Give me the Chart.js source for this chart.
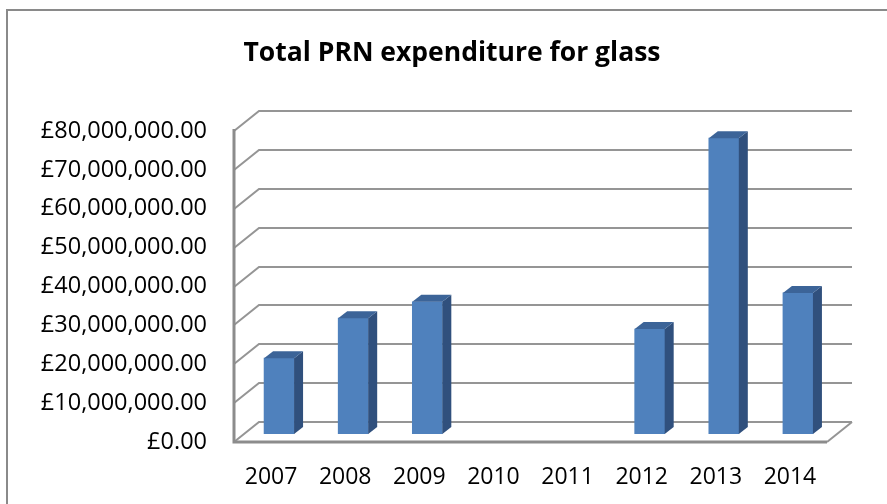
<!DOCTYPE html>
<html><head><meta charset="utf-8">
<script src="https://cdn.jsdelivr.net/npm/chart.js@4"></script>
<style>html,body{margin:0;padding:0;background:#fff;overflow:hidden}</style>
</head><body>
<canvas id="c" width="887" height="504"></canvas>
<script>
const categories = ['2007','2008','2009','2010','2011','2012','2013','2014'];
const expenditure = [19500000, 29800000, 34000000, null, null, 27000000, 76100000, 36300000];
const yTickValues = [0,10000000,20000000,30000000,40000000,50000000,60000000,70000000,80000000];
const yTickLabels = ['£0.00','£10,000,000.00','£20,000,000.00','£30,000,000.00','£40,000,000.00','£50,000,000.00','£60,000,000.00','£70,000,000.00','£80,000,000.00'];
const titleText = 'Total PRN expenditure for glass';

const depth = {dx: 25, dy: 20};
const barShift = {dx: 8, dy: 8};
const barDepth = {dx: 9, dy: 7};

const frame = {
  id: 'frame',
  beforeDraw(chart) {
    const ctx = chart.ctx;
    ctx.save();
    ctx.fillStyle = '#fff';
    ctx.fillRect(0, 0, chart.width, chart.height);
    ctx.strokeStyle = '#8a8a8a';
    ctx.lineWidth = 2;
    ctx.strokeRect(7, 10, 920, 560);
    ctx.restore();
  }
};

const walls3d = {
  id: 'walls3d',
  beforeDatasetsDraw(chart) {
    const ctx = chart.ctx;
    const {left, right, top, bottom} = chart.chartArea;
    const y = chart.scales.y;
    ctx.save();
    ctx.strokeStyle = '#959595';
    ctx.lineWidth = 2;
    yTickValues.forEach(v => {
      const yf = Math.round(y.getPixelForValue(v));
      const yb = yf - depth.dy;
      ctx.beginPath();
      ctx.moveTo(left, yf);
      ctx.lineTo(left + depth.dx, yb);
      ctx.lineTo(right + depth.dx, yb);
      ctx.stroke();
    });
    ctx.beginPath();
    ctx.moveTo(right, bottom);
    ctx.lineTo(right + depth.dx, bottom - depth.dy);
    ctx.stroke();
    ctx.strokeStyle = '#8c8c8c';
    ctx.lineWidth = 3;
    ctx.beginPath();
    ctx.moveTo(left, top - 2);
    ctx.lineTo(left, bottom);
    ctx.lineTo(right, bottom);
    ctx.stroke();
    ctx.restore();
    ctx.save();
    ctx.translate(barShift.dx, -barShift.dy);
  },
  afterDatasetsDraw(chart) {
    const ctx = chart.ctx;
    const meta = chart.getDatasetMeta(0);
    meta.data.forEach((bar, i) => {
      if (expenditure[i] == null) return;
      const p = bar.getProps(['x', 'y', 'base', 'width'], true);
      const xl = p.x - p.width / 2, xr = p.x + p.width / 2;
      ctx.fillStyle = '#30507d';
      ctx.beginPath();
      ctx.moveTo(xr, p.y);
      ctx.lineTo(xr + barDepth.dx, p.y - barDepth.dy);
      ctx.lineTo(xr + barDepth.dx, p.base - barDepth.dy);
      ctx.lineTo(xr, p.base);
      ctx.closePath();
      ctx.fill();
      ctx.fillStyle = '#3c6498';
      ctx.beginPath();
      ctx.moveTo(xl, p.y);
      ctx.lineTo(xl + barDepth.dx, p.y - barDepth.dy);
      ctx.lineTo(xr + barDepth.dx, p.y - barDepth.dy);
      ctx.lineTo(xr, p.y);
      ctx.closePath();
      ctx.fill();
    });
    ctx.restore();
  }
};

new Chart(document.getElementById('c'), {
  type: 'bar',
  data: {
    labels: categories,
    datasets: [{
      label: titleText,
      data: expenditure,
      backgroundColor: '#4f81bd',
      borderWidth: 0,
      barThickness: 30,
      yAxisID: 'y'
    }]
  },
  plugins: [frame, walls3d],
  options: {
    responsive: false,
    animation: false,
    devicePixelRatio: 1,
    layout: {padding: {left: 17, right: 0, top: 0, bottom: 0}},
    plugins: {
      legend: {display: false},
      tooltip: {enabled: false},
      title: {
        display: true,
        text: titleText,
        color: '#000',
        font: {family: 'Open Sans', size: 26.5, weight: 'bold'},
        padding: {top: 37.3, bottom: 61.9}
      }
    },
    scales: {
      x: {
        grid: {display: false, drawTicks: false},
        border: {display: false},
        ticks: {color: '#000', font: {family: 'Open Sans', size: 23}, padding: 22, maxRotation: 0, autoSkip: false},
        afterFit(s) { s.height = 62; }
      },
      y: {
        min: 0, max: 80000000,
        grid: {display: false, drawTicks: false},
        border: {display: false},
        afterBuildTicks(s) { s.ticks = yTickValues.map(v => ({value: v})); },
        ticks: {
          color: '#000',
          font: {family: 'Open Sans', size: 23.5},
          padding: 27,
          callback: (v, i) => yTickLabels[i]
        },
        afterFit(s) { s.width = 217; }
      },
      spacer: {
        position: 'right',
        grid: {display: false, drawTicks: false},
        border: {display: false},
        ticks: {display: false},
        afterFit(s) { s.width = 60; }
      }
    }
  }
});
</script>
</body></html>
